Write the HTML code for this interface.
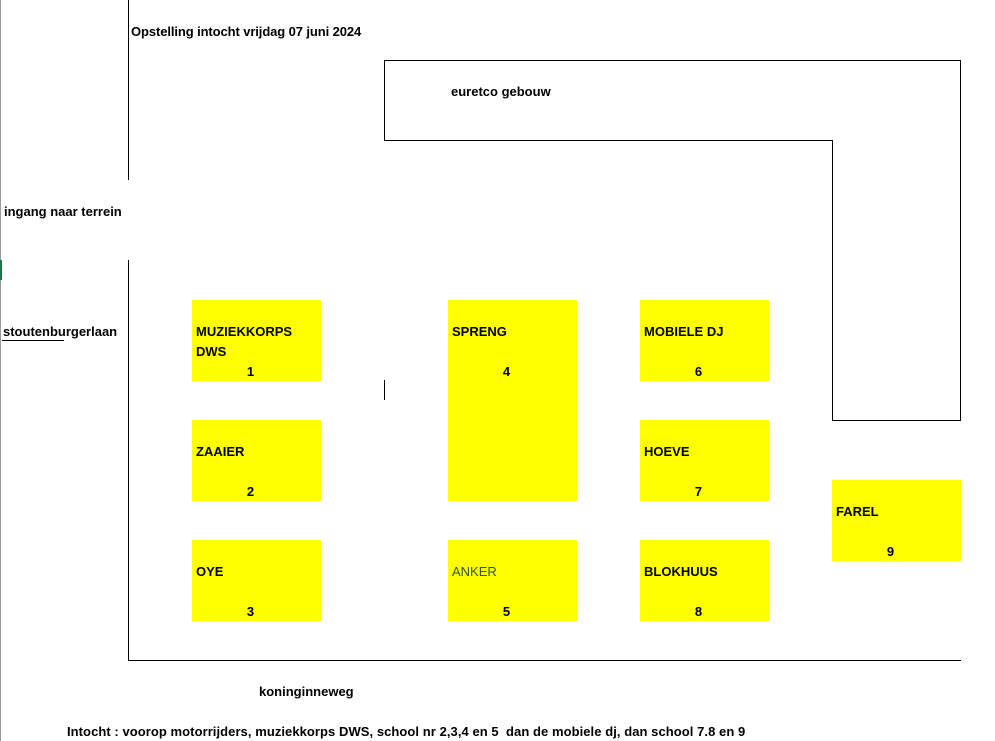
<!DOCTYPE html>
<html><head><meta charset="utf-8"><style>
body{margin:0;width:995px;height:741px;background:#fff;position:relative;overflow:hidden;font-family:"Liberation Sans",sans-serif;font-weight:bold;font-size:13px;color:#000}
.l{position:absolute;background:#000}
.t{position:absolute;white-space:nowrap;line-height:15px}
.b{position:absolute;background:#ff0}
.b .n{position:absolute;left:4px;top:24px;line-height:15px}
.b .num{position:absolute;top:64px;width:100%;text-align:center;left:-6px;line-height:15px}
</style></head><body>
<div class="l" style="left:0;top:0;width:1px;height:741px;background:#999"></div>
<div class="l" style="left:0;top:260px;width:2px;height:20px;background:#217346"></div>
<div class="l" style="left:128px;top:0;width:1px;height:180px"></div>
<div class="l" style="left:128px;top:260px;width:1px;height:401px"></div>
<div class="l" style="left:128px;top:660px;width:833px;height:1px"></div>
<div class="l" style="left:384px;top:60px;width:577px;height:1px"></div>
<div class="l" style="left:384px;top:60px;width:1px;height:80px"></div>
<div class="l" style="left:384px;top:140px;width:449px;height:1px"></div>
<div class="l" style="left:832px;top:140px;width:1px;height:280px"></div>
<div class="l" style="left:832px;top:420px;width:129px;height:1px"></div>
<div class="l" style="left:960px;top:60px;width:1px;height:361px"></div>
<div class="l" style="left:384px;top:380px;width:1px;height:20px"></div>
<div class="l" style="left:2px;top:340px;width:62px;height:1px"></div>

<div class="t" style="left:131px;top:24px;letter-spacing:-0.1px">Opstelling intocht vrijdag 07 juni 2024</div>
<div class="t" style="left:451px;top:84px">euretco gebouw</div>
<div class="t" style="left:4px;top:204px">ingang naar terrein</div>
<div class="t" style="left:3px;top:324px">stoutenburgerlaan</div>
<div class="t" style="left:259px;top:684px">koninginneweg</div>
<div class="t" style="left:67px;top:724px;letter-spacing:0.06px">Intocht : voorop motorrijders, muziekkorps DWS, school nr 2,3,4 en 5 &nbsp;dan de mobiele dj, dan school 7.8 en 9</div>

<div class="b" style="left:192px;top:300px;width:129px;height:81px"><span class="n">MUZIEKKORPS<br><span style="position:relative;top:5px">DWS</span></span><span class="num">1</span></div>
<div class="b" style="left:448px;top:300px;width:129px;height:201px"><span class="n">SPRENG</span><span class="num">4</span></div>
<div class="b" style="left:640px;top:300px;width:129px;height:81px"><span class="n">MOBIELE DJ</span><span class="num">6</span></div>
<div class="b" style="left:192px;top:420px;width:129px;height:81px"><span class="n">ZAAIER</span><span class="num">2</span></div>
<div class="b" style="left:640px;top:420px;width:129px;height:81px"><span class="n">HOEVE</span><span class="num">7</span></div>
<div class="b" style="left:192px;top:540px;width:129px;height:81px"><span class="n">OYE</span><span class="num">3</span></div>
<div class="b" style="left:448px;top:540px;width:129px;height:81px"><span class="n" style="font-weight:normal;color:#2a5a2a">ANKER</span><span class="num">5</span></div>
<div class="b" style="left:640px;top:540px;width:129px;height:81px"><span class="n">BLOKHUUS</span><span class="num">8</span></div>
<div class="b" style="left:832px;top:480px;width:129px;height:81px"><span class="n">FAREL</span><span class="num">9</span></div>
</body></html>
